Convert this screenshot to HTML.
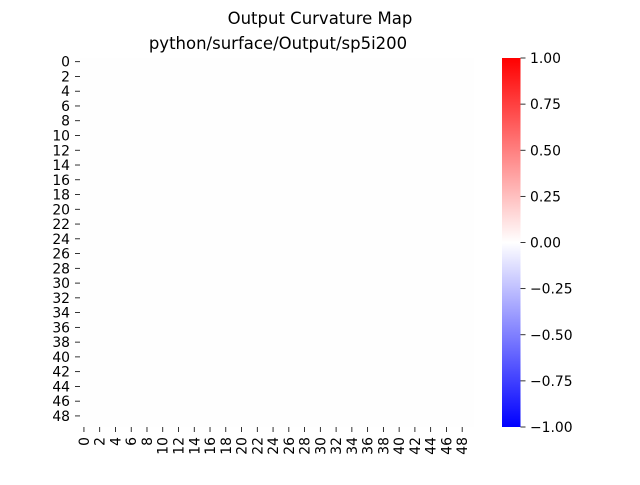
<!DOCTYPE html>
<html><head><meta charset="utf-8"><style>
body{margin:0;background:#fff;}
svg text{font-family:"DejaVu Sans","Liberation Sans",sans-serif;fill:#000;}
</style></head><body>
<svg id="chart" width="640" height="480" xmlns="http://www.w3.org/2000/svg">
<defs><linearGradient id="bwr" x1="0" y1="1" x2="0" y2="0">
<stop offset="0" stop-color="#0000ff"/><stop offset="0.5" stop-color="#ffffff"/><stop offset="1" stop-color="#ff0000"/></linearGradient></defs>
<text x="320" y="24" font-size="16.5" text-anchor="middle">Output Curvature Map</text>
<text x="278" y="49" font-size="16.5" text-anchor="middle">python/surface/Output/sp5i200</text>
<g id="heat"></g>
<g id="yt"></g>
<g id="xt"></g>
<rect x="502" y="58" width="18.5" height="369" fill="url(#bwr)"/>
<g id="cb"></g>
</svg>
<script>
const nRows = 50;
const nCols = 50;
const cellValue = 0;
const cbTicks = ["1.00","0.75","0.50","0.25","0.00","−0.25","−0.50","−0.75","−1.00"];
const cbValues = [1,0.75,0.5,0.25,0,-0.25,-0.5,-0.75,-1];
const NS="http://www.w3.org/2000/svg";
const L=80,R=474,T=58,B=427;
const cw=(R-L)/nCols, ch=(B-T)/nRows;
function colorOf(v){
  let r,g,b;
  if(v>=0){r=255;g=b=Math.round(255*(1-v));}else{b=255;r=g=Math.round(255*(1+v));}
  return `rgb(${Math.min(r,254)},${Math.min(g,254)},${Math.min(b,254)})`;
}
const heat=document.getElementById('heat');
const bg=document.createElementNS(NS,'rect');
bg.setAttribute('x',L);bg.setAttribute('y',T);bg.setAttribute('width',R-L);bg.setAttribute('height',B-T);
bg.setAttribute('fill',colorOf(cellValue));


heat.appendChild(bg);
const yt=document.getElementById('yt'), xt=document.getElementById('xt');
for(let i=0;i<nRows;i+=2){
  const y=T+(i+0.5)*ch;
  const l=document.createElementNS(NS,'line');
  l.setAttribute('x1',L-5);l.setAttribute('x2',L);l.setAttribute('y1',y);l.setAttribute('y2',y);l.setAttribute('stroke','#000');l.setAttribute('stroke-width','0.8');
  
  
  yt.appendChild(l);
  const t=document.createElementNS(NS,'text');
  t.setAttribute('x',L-10);t.setAttribute('y',y+5);t.setAttribute('text-anchor','end');t.setAttribute('font-size','13.9');
  t.textContent=i;
  
  
  yt.appendChild(t);
}
for(let j=0;j<nCols;j+=2){
  const x=L+(j+0.5)*cw;
  const l=document.createElementNS(NS,'line');
  l.setAttribute('x1',x);l.setAttribute('x2',x);l.setAttribute('y1',B);l.setAttribute('y2',B+5);l.setAttribute('stroke','#000');l.setAttribute('stroke-width','0.8');
  
  
  xt.appendChild(l);
  const t=document.createElementNS(NS,'text');
  t.setAttribute('transform',`translate(${x+5},${B+10}) rotate(-90)`);
  t.setAttribute('text-anchor','end');t.setAttribute('font-size','13.9');
  t.textContent=j;
  
  
  xt.appendChild(t);
}
const cb=document.getElementById('cb');
cbValues.forEach((v,i)=>{
  const y=T+(1-v)/2*(B-T);
  const l=document.createElementNS(NS,'line');
  l.setAttribute('x1',520.5);l.setAttribute('x2',525.5);l.setAttribute('y1',y);l.setAttribute('y2',y);l.setAttribute('stroke','#000');l.setAttribute('stroke-width','0.8');
  
  
  cb.appendChild(l);
  const t=document.createElementNS(NS,'text');
  t.setAttribute('x',530);t.setAttribute('y',y+5);t.setAttribute('font-size','13.9');
  t.textContent=cbTicks[i];
  
  
  cb.appendChild(t);
});
</script>
</body></html>
